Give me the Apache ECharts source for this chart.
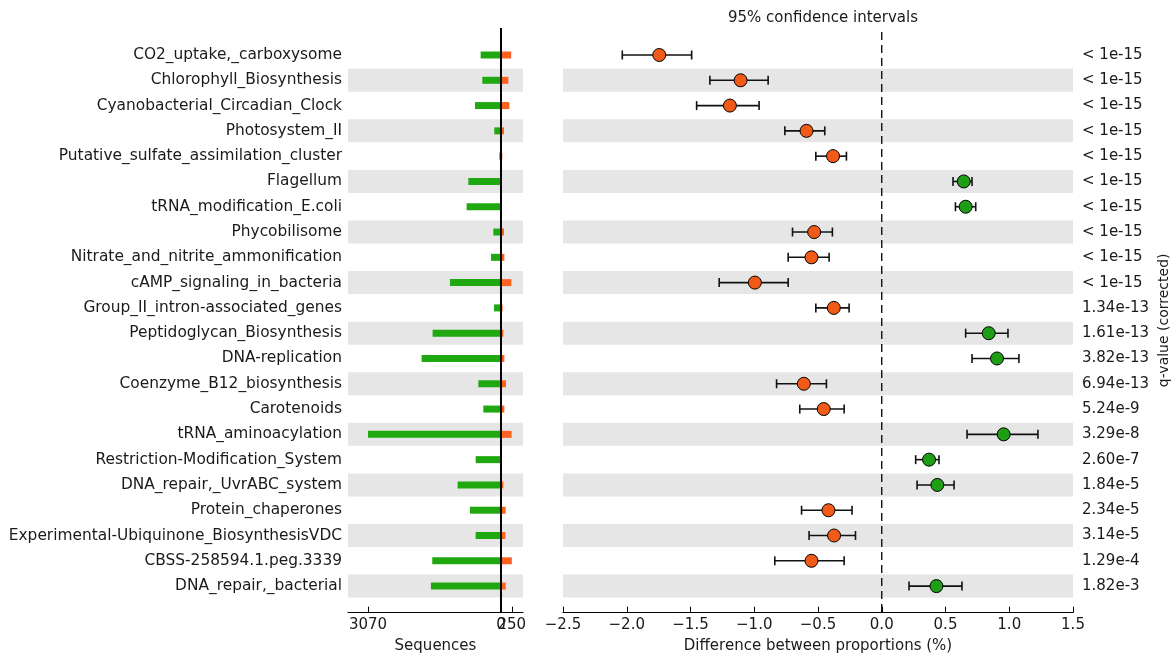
<!DOCTYPE html>
<html>
<head>
<meta charset="utf-8">
<script src="https://cdn.jsdelivr.net/npm/echarts@6/dist/echarts.min.js"></script>
<style>
  html, body { margin: 0; padding: 0; background: #fff; }
  #chart { width: 1176px; height: 656px; }
</style>
</head>
<body>
<div id="chart"></div>
<script>
// Subsystem names, top to bottom
const categories = [
  'CO2_uptake,_carboxysome',
  'Chlorophyll_Biosynthesis',
  'Cyanobacterial_Circadian_Clock',
  'Photosystem_II',
  'Putative_sulfate_assimilation_cluster',
  'Flagellum',
  'tRNA_modification_E.coli',
  'Phycobilisome',
  'Nitrate_and_nitrite_ammonification',
  'cAMP_signaling_in_bacteria',
  'Group_II_intron-associated_genes',
  'Peptidoglycan_Biosynthesis',
  'DNA-replication',
  'Coenzyme_B12_biosynthesis',
  'Carotenoids',
  'tRNA_aminoacylation',
  'Restriction-Modification_System',
  'DNA_repair,_UvrABC_system',
  'Protein_chaperones',
  'Experimental-Ubiquinone_BiosynthesisVDC',
  'CBSS-258594.1.peg.3339',
  'DNA_repair,_bacterial'
];

// Mean sequence counts per group (green drawn to the left, orange to the right)
const seqGreen = [470, 431, 600, 154, 38, 754, 793, 177, 231, 1178, 162,
                  1578, 1832, 523, 408, 3070, 585, 1001, 716, 585, 1586, 1617];
const seqOrange = [235, 170, 192, 69, 31, 12, 10, 69, 77, 240, 38,
                   54, 77, 115, 77, 245, 15, 54, 108, 100, 250, 108];

// Difference between proportions (%) with 95% confidence bounds
const diffMean = [-1.745, -1.107, -1.191, -0.590, -0.382, 0.643, 0.658, -0.530, -0.551, -0.995, -0.376,
                  0.839, 0.904, -0.611, -0.455, 0.956, 0.371, 0.436, -0.418, -0.374, -0.551, 0.429];
const ciLow = [-2.035, -1.348, -1.452, -0.760, -0.517, 0.559, 0.578, -0.700, -0.734, -1.275, -0.517,
               0.658, 0.708, -0.825, -0.643, 0.669, 0.266, 0.277, -0.629, -0.570, -0.839, 0.214];
const ciHigh = [-1.491, -0.891, -0.962, -0.447, -0.277, 0.708, 0.737, -0.387, -0.413, -0.734, -0.256,
                0.990, 1.076, -0.434, -0.295, 1.225, 0.449, 0.567, -0.233, -0.206, -0.295, 0.629];

// Corrected q-values
const qValues = ['< 1e-15', '< 1e-15', '< 1e-15', '< 1e-15', '< 1e-15', '< 1e-15', '< 1e-15',
                 '< 1e-15', '< 1e-15', '< 1e-15', '1.34e-13', '1.61e-13', '3.82e-13', '6.94e-13',
                 '5.24e-9', '3.29e-8', '2.60e-7', '1.84e-5', '2.34e-5', '3.14e-5', '1.29e-4', '1.82e-3'];

// Sequence axis ticks: group maxima on either side, plus zero
const seqTickValues = [-3070, 250];
const seqLabelValues = [-3070, 0];
const seqMaxRightLabel = [250];

const FONT = 'DejaVu Sans';
const FS = 15;
const FS_CAT = 15.4;
const TEXT = '#1a1a1a';
const GREEN = '#1e9e14';
const ORANGE = '#f25a17';
const BAR_GREEN = '#1fa80f';
const BAR_ORANGE = '#fb6220';
const BAND = '#e6e6e6';

const SEQ_MIN = -3531, SEQ_MAX = 508;

const rowIdx = categories.map((_, i) => i);
const bandRows = rowIdx.filter(i => i % 2 === 1);

function yAxisBase(gridIndex) {
  return {
    type: 'value', gridIndex: gridIndex, inverse: true,
    min: -1.0676, max: 22.052,
    axisLine: { show: false }, axisTick: { show: false }, splitLine: { show: false }
  };
}

// alternating row shading across the full width of a panel
function bandItem(params, api) {
  const cs = params.coordSys;
  const y = api.coord([0, api.value(1)])[1];
  return { type: 'rect', silent: true,
    shape: { x: cs.x, y: y - 11.5, width: cs.width, height: 23 },
    style: { fill: BAND } };
}

function barItem(color) {
  return function (params, api) {
    const p0 = api.coord([0, api.value(1)]);
    const p1 = api.coord([api.value(0), api.value(1)]);
    return { type: 'rect',
      shape: { x: Math.min(p0[0], p1[0]), y: p0[1] - 3.5, width: Math.abs(p1[0] - p0[0]), height: 7 },
      style: { fill: color } };
  };
}

function zeroLineItem(dashed) {
  return function (params, api) {
    const cs = params.coordSys;
    const x = api.coord([0, 0])[0];
    return { type: 'line',
      shape: { x1: x, y1: dashed ? cs.y + 4 : cs.y, x2: x, y2: cs.y + cs.height },
      style: { stroke: '#000', lineWidth: dashed ? 1.3 : 2, lineDash: dashed ? [8, 5] : null } };
  };
}

function errorItem(params, api) {
  const row = api.value(2);
  const a = api.coord([api.value(0), row]);
  const b = api.coord([api.value(1), row]);
  const h = 4.5;
  const st = { stroke: '#111', lineWidth: 1.6 };
  return { type: 'group', children: [
    { type: 'line', shape: { x1: a[0], y1: a[1], x2: b[0], y2: b[1] }, style: st },
    { type: 'line', shape: { x1: a[0], y1: a[1] - h, x2: a[0], y2: a[1] + h }, style: st },
    { type: 'line', shape: { x1: b[0], y1: b[1] - h, x2: b[0], y2: b[1] + h }, style: st }
  ] };
}

const chart = echarts.init(document.getElementById('chart'), null, { renderer: 'canvas' });

chart.setOption({
  animation: false,
  backgroundColor: '#fff',
  textStyle: { fontFamily: FONT, color: TEXT },
  title: {
    text: '95% confidence intervals',
    left: 818, top: 6, textAlign: 'center',
    textStyle: { fontFamily: FONT, fontSize: FS, fontWeight: 'normal', color: TEXT }
  },
  grid: [
    { left: 348, width: 175, top: 28, height: 584.7, outerBoundsMode: 'none' },
    { left: 563, width: 510, top: 28, height: 584.7, outerBoundsMode: 'none' }
  ],
  xAxis: [
    {
      type: 'value', gridIndex: 0, min: SEQ_MIN, max: SEQ_MAX, position: 'bottom',
      name: 'Sequences', nameLocation: 'middle', nameGap: 26,
      nameTextStyle: { fontFamily: FONT, fontSize: FS, color: TEXT },
      axisLine: { onZero: false, lineStyle: { color: '#000', width: 1.2 } },
      axisTick: { inside: true, length: 6, customValues: seqTickValues, lineStyle: { color: '#000' } },
      axisLabel: { customValues: seqLabelValues, formatter: v => String(Math.abs(v)), hideOverlap: false,
        fontFamily: FONT, fontSize: FS, color: TEXT, margin: 5 },
      splitLine: { show: false }
    },
    {
      type: 'value', gridIndex: 1, min: -2.5, max: 1.5, interval: 0.5, position: 'bottom',
      name: 'Difference between proportions (%)', nameLocation: 'middle', nameGap: 26,
      nameTextStyle: { fontFamily: FONT, fontSize: FS, color: TEXT },
      axisLine: { onZero: false, lineStyle: { color: '#000', width: 1.2 } },
      axisTick: { inside: true, length: 6, lineStyle: { color: '#000' } },
      axisLabel: { formatter: v => v.toFixed(1).replace('-', '\u2212'), hideOverlap: false,
        fontFamily: FONT, fontSize: FS, color: TEXT, margin: 5 },
      splitLine: { show: false }
    },
    {
      // right-hand group maximum label, sharing the sequence scale
      type: 'value', gridIndex: 0, min: SEQ_MIN, max: SEQ_MAX, position: 'bottom',
      axisLine: { show: false, onZero: false }, axisTick: { show: false }, splitLine: { show: false },
      axisLabel: { customValues: seqMaxRightLabel, formatter: v => String(v), hideOverlap: false,
        fontFamily: FONT, fontSize: FS, color: TEXT, margin: 5 }
    }
  ],
  yAxis: [
    Object.assign(yAxisBase(0), {
      axisLabel: { customValues: rowIdx, formatter: v => categories[v] || '',
        fontFamily: FONT, fontSize: FS_CAT, color: TEXT, margin: 6 }
    }),
    Object.assign(yAxisBase(1), {
      position: 'right',
      name: 'q-value (corrected)', nameLocation: 'middle', nameGap: 84, nameRotate: 90,
      nameTextStyle: { fontFamily: FONT, fontSize: FS - 1, color: TEXT },
      axisLabel: { customValues: rowIdx, formatter: v => qValues[v] || '',
        fontFamily: FONT, fontSize: FS, color: TEXT, margin: 9, align: 'left' }
    })
  ],
  series: [
    { type: 'custom', xAxisIndex: 0, yAxisIndex: 0, renderItem: bandItem, z: 1,
      encode: { x: 0, y: 1 }, data: bandRows.map(i => [0, i]) },
    { type: 'custom', xAxisIndex: 1, yAxisIndex: 1, renderItem: bandItem, z: 1,
      encode: { x: 0, y: 1 }, data: bandRows.map(i => [0, i]) },
    { type: 'custom', xAxisIndex: 0, yAxisIndex: 0, renderItem: barItem(BAR_GREEN), z: 2,
      encode: { x: 0, y: 1 }, data: seqGreen.map((v, i) => [-v, i]) },
    { type: 'custom', xAxisIndex: 0, yAxisIndex: 0, renderItem: barItem(BAR_ORANGE), z: 2,
      encode: { x: 0, y: 1 }, data: seqOrange.map((v, i) => [v, i]) },
    { type: 'custom', xAxisIndex: 0, yAxisIndex: 0, renderItem: zeroLineItem(false), z: 3,
      encode: { x: 0, y: 1 }, data: [[0, 0]] },
    { type: 'custom', xAxisIndex: 1, yAxisIndex: 1, renderItem: zeroLineItem(true), z: 3,
      encode: { x: 0, y: 1 }, data: [[0, 0]] },
    { type: 'custom', xAxisIndex: 1, yAxisIndex: 1, renderItem: errorItem, z: 4,
      encode: { x: [0, 1], y: 2 }, data: rowIdx.map(i => [ciLow[i], ciHigh[i], i]) },
    { type: 'scatter', xAxisIndex: 1, yAxisIndex: 1, z: 5, symbol: 'circle', symbolSize: 13,
      itemStyle: { color: p => (p.value[0] < 0 ? ORANGE : GREEN), borderColor: '#000', borderWidth: 1, opacity: 1 },
      data: rowIdx.map(i => [diffMean[i], i]) }
  ]
});
</script>
</body>
</html>
